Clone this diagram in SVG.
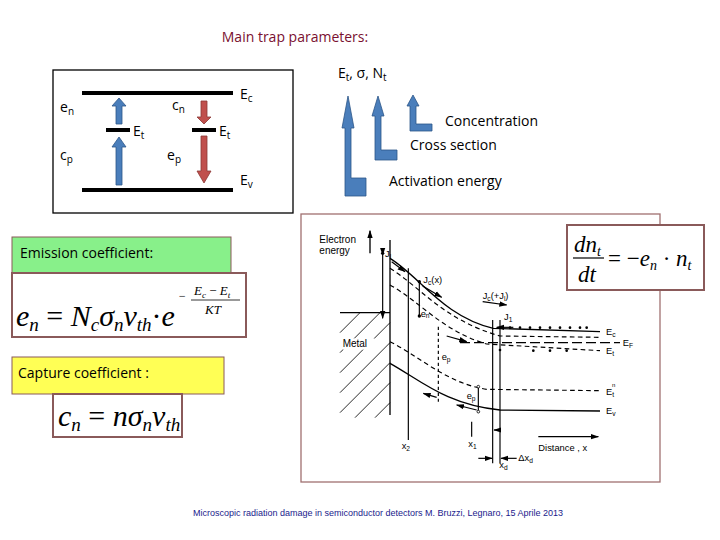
<svg xmlns="http://www.w3.org/2000/svg" width="720" height="540" viewBox="0 0 720 540">
<defs>
<style>
.t{font-family:"Open Sans","Liberation Sans",sans-serif;fill:#000}
.m{font-family:"Liberation Serif",serif;font-style:italic;fill:#000}
.b{font-family:"Liberation Sans",sans-serif;fill:#000}
.lvl{stroke:#000;stroke-width:4}
.bd{fill:none;stroke:#000;stroke-width:4}
.dd{fill:none;stroke:#000;stroke-width:3.5;stroke-dasharray:14 10}
</style>
<marker id="ahb" markerWidth="24" markerHeight="24" refX="22" refY="12" orient="auto" markerUnits="userSpaceOnUse"><path d="M0,4 L24,12 L0,20z" fill="#000"/></marker>
</defs>
<rect width="720" height="540" fill="#fff"/>
<text class="t" x="295" y="42" font-size="14" text-anchor="middle" style="fill:#7a1030">Main trap parameters:</text>

<g id="trap-box">
<rect x="53" y="70" width="240" height="143" fill="none" stroke="#000" stroke-width="1.3"/>
<line class="lvl" x1="82" y1="93" x2="233" y2="93"/>
<line class="lvl" x1="82" y1="190" x2="233" y2="190"/>
<line class="lvl" x1="106" y1="130" x2="130" y2="130"/>
<line class="lvl" x1="192" y1="130" x2="216" y2="130"/>
<path d="M116,124 V106 H112 L119,98 L126,106 H122 V124Z" fill="#4a7ebb" stroke="#2c5588" stroke-width="0.8"/>
<path d="M116,185 V147 H112 L119,137 L126,147 H122 V185Z" fill="#4a7ebb" stroke="#2c5588" stroke-width="0.8"/>
<path d="M201,101 V117 H197 L204,124 L211,117 H207 V101Z" fill="#c0504d" stroke="#8c3836" stroke-width="0.8"/>
<path d="M201,136 V171 H197 L204,183 L211,171 H207 V136Z" fill="#c0504d" stroke="#8c3836" stroke-width="0.8"/>
<text class="t" x="60" y="112" font-size="14">e<tspan font-size="10" dy="3">n</tspan></text>
<text class="t" x="133" y="136" font-size="14">E<tspan font-size="10" dy="3">t</tspan></text>
<text class="t" x="172" y="110" font-size="14">c<tspan font-size="10" dy="3">n</tspan></text>
<text class="t" x="219" y="136" font-size="14">E<tspan font-size="10" dy="3">t</tspan></text>
<text class="t" x="60" y="160" font-size="14">c<tspan font-size="10" dy="3">p</tspan></text>
<text class="t" x="167" y="160" font-size="14">e<tspan font-size="10" dy="3">p</tspan></text>
<text class="t" x="240" y="99" font-size="14">E<tspan font-size="10" dy="3">c</tspan></text>
<text class="t" x="240" y="185" font-size="14">E<tspan font-size="10" dy="3">v</tspan></text>
</g>

<g id="params">
<text class="t" x="338" y="78" font-size="14">E<tspan font-size="10" dy="3">t</tspan><tspan dy="-3">, σ, N</tspan><tspan font-size="10" dy="3">t</tspan></text>
<path d="M345,196 V128 H342 L348,96 L354,128 H351 V178 H366 V196Z" fill="#4a7ebb" stroke="#2c5588" stroke-width="0.8"/>
<path d="M375,160 V116 H372 L378,96 L384,116 H381 V150 H397 V160Z" fill="#4a7ebb" stroke="#2c5588" stroke-width="0.8"/>
<path d="M410,131 V106 H407 L413,95 L419,106 H416 V124 H432 V131Z" fill="#4a7ebb" stroke="#2c5588" stroke-width="0.8"/>
<text class="t" x="445" y="126" font-size="14">Concentration</text>
<text class="t" x="410" y="150" font-size="14">Cross section</text>
<text class="t" x="389" y="186" font-size="14">Activation energy</text>
</g>

<g id="emission">
<rect x="12" y="237" width="219" height="36" fill="#88f08a" stroke="#8a5a5a" stroke-width="1"/>
<text class="t" x="20" y="258" font-size="14">Emission coefficient:</text>
<rect x="12" y="273" width="234" height="64" fill="#fff" stroke="#8a5a5a" stroke-width="2"/>
<text class="m" x="16" y="326" font-size="30">e<tspan font-size="19" dy="5">n</tspan><tspan dy="-5" style="font-style:normal"> = </tspan>N<tspan font-size="19" dy="5">c</tspan><tspan dy="-5">σ</tspan><tspan font-size="19" dy="5">n</tspan><tspan dy="-5">v</tspan><tspan font-size="19" dy="5">th</tspan><tspan dy="-5" style="font-style:normal">·</tspan>e</text>
<text class="m" x="178" y="300" font-size="12">−</text>
<text class="m" x="194" y="295" font-size="13">E<tspan font-size="9" dy="3">c</tspan><tspan dy="-3" style="font-style:normal"> − </tspan>E<tspan font-size="9" dy="3">t</tspan></text>
<line x1="191" y1="300" x2="240" y2="300" stroke="#000" stroke-width="0.8"/>
<text class="m" x="205" y="314" font-size="13">KT</text>
</g>

<g id="capture">
<rect x="12" y="357" width="212" height="37" fill="#ffff55" stroke="#8a5a5a" stroke-width="1"/>
<text class="t" x="18" y="378" font-size="14">Capture coefficient :</text>
<rect x="53" y="394" width="129" height="43" fill="#fff" stroke="#8a5a5a" stroke-width="2"/>
<text class="m" x="58" y="426" font-size="30">c<tspan font-size="19" dy="5">n</tspan><tspan dy="-5" style="font-style:normal"> = </tspan>nσ<tspan font-size="19" dy="5">n</tspan><tspan dy="-5">v</tspan><tspan font-size="19" dy="5">th</tspan></text>
</g>

<g id="band-diagram">
<rect x="301" y="214" width="359" height="268" fill="#fff" stroke="#a07070" stroke-width="1.3"/>
<g transform="translate(300,210) scale(0.33333)">
<text class="b" x="58" y="98" font-size="30">Electron</text>
<text class="b" x="58" y="132" font-size="30">energy</text>
<line x1="210" y1="130" x2="210" y2="62" stroke="#000" stroke-width="4" marker-end="url(#ahb)"/>
<g stroke="#000" stroke-width="2.5">
<line x1="120" y1="308" x2="270" y2="308" stroke-width="4"/>
<line x1="270" y1="90" x2="270" y2="615" stroke-width="4"/>
<line x1="120" y1="368" x2="180" y2="308"/><line x1="120" y1="428" x2="240" y2="308"/>
<line x1="120" y1="488" x2="270" y2="338"/><line x1="120" y1="548" x2="270" y2="398"/>
<line x1="120" y1="608" x2="270" y2="458"/><line x1="165" y1="623" x2="270" y2="518"/>
<line x1="225" y1="623" x2="270" y2="578"/>
</g>
<rect x="128" y="385" width="96" height="34" fill="#fff"/>
<text class="b" x="128" y="412" font-size="30">Metal</text>
<path class="bd" d="M270,145 C360,200 430,320 580,355 L900,365"/>
<path class="dd" d="M270,175 C360,230 430,330 600,378 L900,382"/>
<path class="dd" d="M270,225 C360,275 430,365 560,402 L900,422"/>
<path d="M480,398 L960,398" fill="none" stroke="#000" stroke-width="4" stroke-dasharray="30 12"/>
<path class="dd" d="M270,395 C360,440 440,520 560,538 L900,542"/>
<path class="bd" d="M270,460 C360,510 440,585 600,600 L900,603"/>
<g stroke="#000" stroke-width="3.5" fill="none">
<line x1="325" y1="175" x2="325" y2="690"/>
<line x1="578" y1="330" x2="578" y2="760"/>
<line x1="600" y1="330" x2="600" y2="760"/>
<line x1="515" y1="635" x2="515" y2="680"/>
<line x1="248" y1="135" x2="248" y2="325" marker-start="url(#ahb)" marker-end="url(#ahb)"/>
<line x1="358" y1="215" x2="358" y2="318"/>
<line x1="415" y1="350" x2="415" y2="575" stroke-dasharray="10 8"/>
<line x1="535" y1="530" x2="535" y2="605"/>
<line x1="275" y1="155" x2="315" y2="185" marker-end="url(#ahb)"/>
<line x1="368" y1="228" x2="425" y2="262" marker-end="url(#ahb)"/>
<line x1="548" y1="275" x2="620" y2="285" marker-end="url(#ahb)"/>
<line x1="640" y1="352" x2="590" y2="352" marker-end="url(#ahb)"/>
<line x1="440" y1="378" x2="500" y2="395" marker-end="url(#ahb)"/>
<line x1="530" y1="600" x2="470" y2="585" marker-end="url(#ahb)"/>
<line x1="410" y1="562" x2="370" y2="550" marker-end="url(#ahb)"/>
<line x1="715" y1="680" x2="895" y2="680" marker-end="url(#ahb)"/>
<line x1="535" y1="745" x2="576" y2="745" marker-end="url(#ahb)"/>
<line x1="650" y1="745" x2="603" y2="745" marker-end="url(#ahb)"/>
<line x1="600" y1="660" x2="582" y2="660" marker-end="url(#ahb)"/>
</g>
<g fill="#000">
<circle cx="630" cy="353" r="4"/><circle cx="660" cy="353" r="4"/><circle cx="690" cy="353" r="4"/><circle cx="720" cy="353" r="4"/><circle cx="750" cy="353" r="4"/><circle cx="780" cy="353" r="4"/><circle cx="810" cy="353" r="4"/><circle cx="840" cy="353" r="4"/><circle cx="860" cy="353" r="4"/>
<circle cx="358" cy="215" r="5"/><circle cx="358" cy="318" r="5"/><circle cx="248" cy="130" r="5"/>
<circle cx="600" cy="420" r="4"/><circle cx="700" cy="422" r="4"/><circle cx="750" cy="422" r="4"/><circle cx="800" cy="422" r="4"/>
</g>
<circle cx="535" cy="530" r="4" fill="#fff" stroke="#000" stroke-width="2.5"/>
<circle cx="535" cy="605" r="4" fill="#fff" stroke="#000" stroke-width="2.5"/>
<text class="b" x="255" y="140" font-size="28">J<tspan font-size="20" dy="6">l</tspan></text>
<text class="b" x="370" y="218" font-size="28">J<tspan font-size="20" dy="6">c</tspan><tspan dy="-6">(x)</tspan></text>
<text class="b" x="362" y="320" font-size="28">e<tspan font-size="20" dy="4">n</tspan></text>
<text class="b" x="548" y="268" font-size="28">J<tspan font-size="20" dy="6">c</tspan><tspan dy="-6">(+J</tspan><tspan font-size="20" dy="6">l</tspan><tspan dy="-6">)</tspan></text>
<text class="b" x="612" y="330" font-size="28">J<tspan font-size="20" dy="6">1</tspan></text>
<text class="b" x="425" y="450" font-size="28">e<tspan font-size="20" dy="6">p</tspan></text>
<text class="b" x="500" y="568" font-size="28">e<tspan font-size="20" dy="6">p</tspan></text>
<text class="b" x="918" y="374" font-size="28">E<tspan font-size="20" dy="6">c</tspan></text>
<text class="b" x="968" y="408" font-size="28">E<tspan font-size="20" dy="6">F</tspan></text>
<text class="b" x="918" y="432" font-size="28">E<tspan font-size="20" dy="6">t</tspan></text>
<text class="b" x="918" y="556" font-size="28">E<tspan font-size="20" dy="6">t</tspan><tspan font-size="18" dx="-6" dy="-30">n</tspan></text>
<text class="b" x="918" y="612" font-size="28">E<tspan font-size="20" dy="6">v</tspan></text>
<text class="b" x="305" y="718" font-size="28">x<tspan font-size="20" dy="6">2</tspan></text>
<text class="b" x="505" y="710" font-size="28">x<tspan font-size="20" dy="6">1</tspan></text>
<text class="b" x="715" y="722" font-size="28">Distance , x</text>
<text class="b" x="655" y="752" font-size="28">Δx<tspan font-size="20" dy="6">d</tspan></text>
<text class="b" x="598" y="775" font-size="28">x<tspan font-size="20" dy="6">d</tspan></text>
</g>
</g>

<g id="rate-eq">
<rect x="567" y="225" width="137" height="65" fill="#fff" stroke="#8a5a5a" stroke-width="2"/>
<text class="m" x="574" y="252" font-size="23">dn<tspan font-size="14" dy="4">t</tspan></text>
<line x1="573" y1="258" x2="604" y2="258" stroke="#000" stroke-width="1.2"/>
<text class="m" x="578" y="282" font-size="23">dt</text>
<text class="m" x="608" y="266" font-size="23"><tspan style="font-style:normal">= −</tspan>e<tspan font-size="14" dy="4">n</tspan><tspan dy="-4" style="font-style:normal"> · </tspan>n<tspan font-size="14" dy="4">t</tspan></text>
</g>

<text class="b" x="378" y="516" font-size="9" text-anchor="middle" style="fill:#1a1a8c">Microscopic radiation damage in semiconductor detectors  M. Bruzzi, Legnaro, 15 Aprile 2013</text>
</svg>
